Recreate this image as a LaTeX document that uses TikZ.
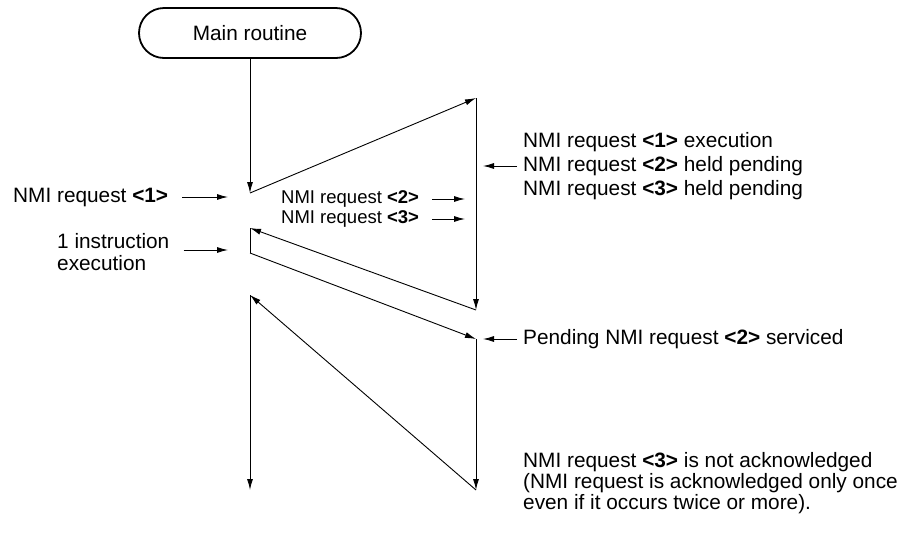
\documentclass[tikz,border=0pt]{standalone}
\usepackage{fontspec}
\setmainfont{Liberation Sans}
\usetikzlibrary{arrows.meta}

\begin{document}
\begin{tikzpicture}[x=1pt, y=-1pt,
    >={Latex[length=11pt,width=6pt]},
    flow/.style={->, line width=0.9pt},
    tag/.style={->, line width=0.9pt},
    note/.style={font=\fontsize{20.8}{22}\selectfont, inner sep=0pt, anchor=west, align=left},
    small/.style={font=\fontsize{18.5}{20}\selectfont, inner sep=0pt, anchor=west}]
    \useasboundingbox (0,0) rectangle (908,539);

    % Main routine
    \node[draw, line width=1.8pt, rounded corners=25pt, minimum width=222pt, minimum height=50pt,
          font=\fontsize{20.8}{22}\selectfont] (main) at (250,33) {Main routine};

    % Program flow
    \coordinate (acc1) at (250,193);
    \coordinate (top1) at (476,98);
    \coordinate (end1) at (476,310);
    \coordinate (ret1) at (250,228);
    \coordinate (one)  at (250,253);
    \coordinate (top2) at (476,339);
    \coordinate (end2) at (476,490);
    \coordinate (ret2) at (250,295);
    \coordinate (cont) at (250,490);

    \draw[flow] (main) -- (acc1);
    \draw[flow] (acc1) -- (top1);
    \draw[flow] (top1) -- (end1);
    \draw[flow] (end1) -- (ret1);
    \draw[line width=0.9pt] (ret1) -- (one);
    \draw[flow] (one) -- (top2);
    \draw[flow] (top2) -- (end2);
    \draw[flow] (end2) -- (ret2);
    \draw[flow] (ret2) -- (cont);

    % Left labels
    \node[note] (req1) at (13,197) {NMI request \textbf{<1>}};
    \coordinate (req1tip) at (228,197);
    \draw[tag] ([xshift=14pt]req1.east) -- (req1tip);

    \node[note] (instr) at (57,252) {1 instruction\\execution};
    \coordinate (instrtip) at (228,250);
    \draw[tag] ([xshift=14pt]instr.east |- instrtip) -- (instrtip);

    % NMI requests during the handler
    \node[small] (req2) at (281,199) {NMI request \textbf{<2>}};
    \node[small] (req3) at (281,219) {NMI request \textbf{<3>}};
    \coordinate (req2tip) at (465,199);
    \coordinate (req3tip) at (465,219);
    \draw[tag] ([xshift=13pt]req2.east) -- (req2tip);
    \draw[tag] ([xshift=13pt]req3.east) -- (req3tip);

    % Right labels
    \node[note, font=\fontsize{20.8}{24}\selectfont] (exec1) at (523,166)
        {NMI request \textbf{<1>} execution\\NMI request \textbf{<2>} held pending\\NMI request \textbf{<3>} held pending};
    \coordinate (exec1tip) at (483,166);
    \draw[tag] ([xshift=-6pt]exec1.west) -- (exec1tip);

    \node[note] (serv) at (523,339) {Pending NMI request \textbf{<2>} serviced};
    \coordinate (servtip) at (483,339);
    \draw[tag] ([xshift=-6pt]serv.west) -- (servtip);

    \node[note, font=\fontsize{20.8}{21}\selectfont] (lost) at (523,483)
        {NMI request \textbf{<3>} is not acknowledged\\(NMI request is acknowledged only once\\even if it occurs twice or more).};
\end{tikzpicture}
\end{document}
